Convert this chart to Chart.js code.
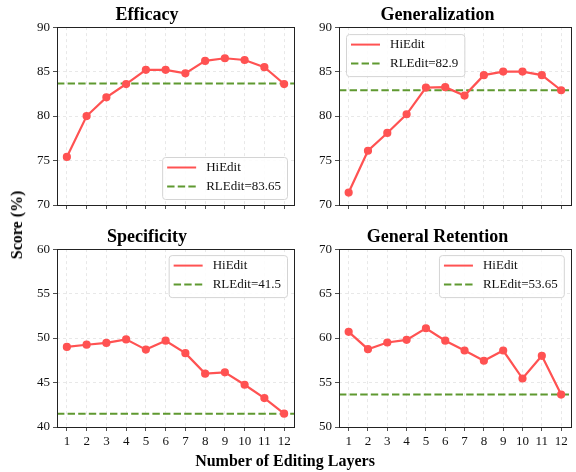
<!DOCTYPE html>
<html lang="en">

<head>
    <meta charset="UTF-8">
    <title>HiEdit vs RLEdit</title>
    <script src="https://cdn.jsdelivr.net/npm/chart.js"></script>
    <style>
        body { margin: 0; background: #fff; }
        .fig { position: relative; width: 576px; height: 472px; overflow: hidden; font-family: 'Liberation Serif', 'DejaVu Serif', serif; }
        .fig canvas { position: absolute; }
        .ylab { position: absolute; left: 17px; top: 225px; transform: translate(-50%, -50%) rotate(-90deg); font-weight: bold; font-size: 16px; white-space: nowrap; }
        .xlab { position: absolute; left: 285px; top: 461px; transform: translate(-50%, -50%); font-weight: bold; font-size: 16px; white-space: nowrap; }
    </style>
</head>

<body>
    <div class="fig">
        <canvas id="c1" width="300" height="230" style="left:0;top:0"></canvas>
        <canvas id="c2" width="276" height="230" style="left:300px;top:0"></canvas>
        <canvas id="c3" width="300" height="250" style="left:0;top:222px"></canvas>
        <canvas id="c4" width="276" height="250" style="left:300px;top:222px"></canvas>
        <div class="ylab">Score (%)</div>
        <div class="xlab">Number of Editing Layers</div>
    </div>

<script>
    // dados
    var layers = ['1', '2', '3', '4', '5', '6', '7', '8', '9', '10', '11', '12'];

    var efficacy = [75.4, 80.0, 82.1, 83.6, 85.2, 85.2, 84.8, 86.2, 86.5, 86.3, 85.5, 83.6];
    var generalization = [71.4, 76.1, 78.1, 80.2, 83.2, 83.25, 82.3, 84.6, 85.0, 85.0, 84.6, 82.9];
    var specificity = [49.0, 49.25, 49.45, 49.85, 48.7, 49.7, 48.3, 46.0, 46.15, 44.75, 43.25, 41.5];
    var retention = [60.7, 58.75, 59.5, 59.8, 61.1, 59.7, 58.6, 57.45, 58.6, 55.45, 58.0, 53.65];

    var rledit = [83.65, 82.9, 41.5, 53.65];
    var titulos = ['Efficacy', 'Generalization', 'Specificity', 'General Retention'];
    var yMin = [70, 70, 40, 50];
    var yMax = [90, 90, 60, 70];

    var vermelho = '#ff5252';
    var verde = '#5f9930';
    var fonte = "'Liberation Serif', 'DejaVu Serif', serif";

    // linha horizontal do RLEdit + caixa + legenda
    var extras = {
        id: 'extras',
        beforeDatasetsDraw: function (chart, args, opts) {
            var ctx = chart.ctx, a = chart.chartArea;
            var y = chart.scales.y.getPixelForValue(opts.base);
            ctx.save();
            ctx.strokeStyle = verde;
            ctx.lineWidth = 2;
            ctx.setLineDash([7.4, 3.2]);
            ctx.beginPath();
            ctx.moveTo(a.left, y);
            ctx.lineTo(a.right, y);
            ctx.stroke();
            ctx.restore();
        },
        afterDraw: function (chart, args, opts) {
            var ctx = chart.ctx, a = chart.chartArea;
            ctx.save();
            ctx.strokeStyle = '#222';
            ctx.lineWidth = 1;
            ctx.strokeRect(Math.round(a.left) + 0.5, Math.round(a.top) + 0.5, Math.round(a.right - a.left), Math.round(a.bottom - a.top));

            // legenda
            ctx.font = '13px ' + fonte;
            var txt1 = chart.data.datasets[0].label;
            var txt2 = 'RLEdit=' + opts.base;
            var tw = Math.max(ctx.measureText(txt1).width, ctx.measureText(txt2).width);
            var w = 5 + 29 + 10 + tw + 6, h = 42;
            var x0, y0;
            if (opts.pos == 'lr') { x0 = a.right - 7 - w; y0 = a.bottom - 6 - h; }
            if (opts.pos == 'ul') { x0 = a.left + 7; y0 = a.top + 7; }
            if (opts.pos == 'ur') { x0 = a.right - 7 - w; y0 = a.top + 6; }
            ctx.fillStyle = 'rgba(255,255,255,0.85)';
            ctx.strokeStyle = '#d4d4d4';
            ctx.beginPath();
            ctx.roundRect(x0 + 0.5, y0 + 0.5, w, h, 3);
            ctx.fill();
            ctx.stroke();

            var r1 = y0 + 10.5, r2 = y0 + 29.5;
            ctx.lineWidth = 2;
            ctx.strokeStyle = vermelho;
            ctx.beginPath();
            ctx.moveTo(x0 + 5, r1); ctx.lineTo(x0 + 34, r1);
            ctx.stroke();
            ctx.strokeStyle = verde;
            ctx.setLineDash([7.4, 3.2]);
            ctx.beginPath();
            ctx.moveTo(x0 + 5, r2); ctx.lineTo(x0 + 34, r2);
            ctx.stroke();
            ctx.setLineDash([]);

            ctx.fillStyle = '#111';
            ctx.textBaseline = 'middle';
            ctx.fillText(txt1, x0 + 44, r1);
            ctx.fillText(txt2, x0 + 44, r2);
            ctx.restore();
        }
    };

    function plotar(id, valores, i, yWidth, padRight, xHeight, pos, mostrarX) {
        var ctx = document.getElementById(id).getContext('2d');
        return new Chart(ctx, {
            type: 'line',
            data: {
                labels: layers,
                datasets: [{
                    label: 'HiEdit',
                    data: valores,
                    borderColor: vermelho,
                    backgroundColor: vermelho,
                    borderWidth: 2.2,
                    pointRadius: 3,
                    pointHoverRadius: 3,
                    tension: 0
                }]
            },
            options: {
                responsive: false,
                animation: false,
                layout: { padding: { right: padRight, left: 0, top: 0, bottom: 0 } },
                plugins: {
                    legend: { display: false },
                    tooltip: { enabled: false },
                    title: {
                        display: true,
                        text: titulos[i],
                        color: '#000',
                        font: { family: fonte, size: 18, weight: 'bold', lineHeight: 1.2 },
                        padding: { top: 4.5, bottom: 1 }
                    },
                    extras: { base: rledit[i], pos: pos }
                },
                scales: {
                    x: {
                        type: 'category',
                        offset: true,
                        grid: {
                            offset: false,
                            color: '#e2e2e2',
                            lineWidth: 0.8,
                            tickColor: '#222',
                            tickLength: 4,
                            tickBorderDash: []
                        },
                        border: { display: false, dash: [3, 3] },
                        ticks: { display: mostrarX, color: '#111', padding: 3, maxRotation: 0, autoSkip: false, font: { family: fonte, size: 13 } },
                        afterFit: function (s) { s.height = xHeight; }
                    },
                    y: {
                        min: yMin[i],
                        max: yMax[i],
                        ticks: { stepSize: 5, color: '#111', padding: 3, font: { family: fonte, size: 13 } },
                        grid: {
                            color: '#e2e2e2',
                            lineWidth: 0.8,
                            tickColor: '#222',
                            tickLength: 4,
                            tickBorderDash: []
                        },
                        border: { display: false, dash: [3, 3] },
                        afterFit: function (s) { s.width = yWidth; }
                    }
                }
            },
            plugins: [extras]
        });
    }

    plotar('c1', efficacy, 0, 57, 6, 25, 'lr', false);
    plotar('c2', generalization, 1, 39, 1, 25, 'ul', false);
    plotar('c3', specificity, 2, 57, 6, 45, 'ur', true);
    plotar('c4', retention, 3, 39, 1, 45, 'ur', true);
</script>
</body>

</html>
